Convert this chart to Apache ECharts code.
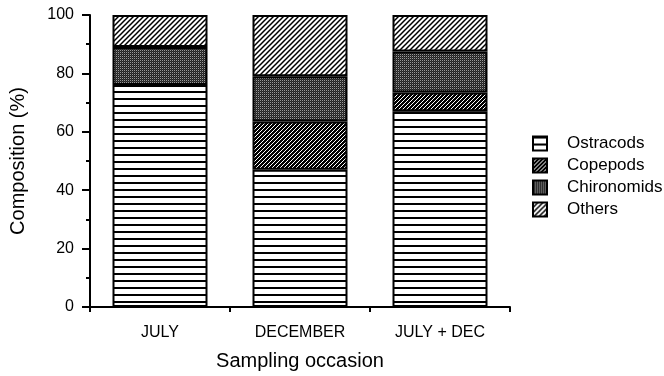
<!DOCTYPE html>
<html>
<head>
<meta charset="utf-8">
<script src="https://cdn.jsdelivr.net/npm/echarts@6/dist/echarts.min.js"></script>
<style>
html,body{margin:0;padding:0;background:#fff;}
#chart{width:664px;height:376px;}
</style>
</head>
<body>
<div id="chart"></div>
<script>
// ---- data ----
const categories = ['JULY', 'DECEMBER', 'JULY + DEC'];
const seriesNames = ['Ostracods', 'Copepods', 'Chironomids', 'Others'];
const ostracods = [76, 47, 67];
const copepods = [0, 16.5, 6.5];
const chironomids = [13, 15.5, 14];
const others = [11, 21, 12.5];
const yTicks = [0, 20, 40, 60, 80, 100];

// ---- patterns ----
function makePattern(w, h, draw) {
  const c = document.createElement('canvas');
  c.width = w; c.height = h;
  const ctx = c.getContext('2d');
  draw(ctx, w, h);
  return c;
}
function diag(ctx, s, color, lw) {
  ctx.strokeStyle = color; ctx.lineWidth = lw;
  ctx.beginPath();
  ctx.moveTo(-1, s + 1); ctx.lineTo(s + 1, -1);
  ctx.moveTo(-1, 1); ctx.lineTo(1, -1);
  ctx.moveTo(s - 1, s + 1); ctx.lineTo(s + 1, s - 1);
  ctx.stroke();
}
const patOstracods = makePattern(7, 7, (ctx, w, h) => {
  ctx.fillStyle = '#fff'; ctx.fillRect(0, 0, w, h);
  ctx.fillStyle = '#000'; ctx.fillRect(0, 0, w, 2);
});
const patCopepods = makePattern(4, 4, (ctx, w, h) => {
  ctx.fillStyle = '#000'; ctx.fillRect(0, 0, w, h);
  diag(ctx, 4, '#fff', 1);
});
const patChironomids = makePattern(2, 2, (ctx, w, h) => {
  ctx.fillStyle = '#222'; ctx.fillRect(0, 0, w, h);
  ctx.fillStyle = '#9a9a9a'; ctx.fillRect(0, 0, 1, 1);
  ctx.fillStyle = '#3a3a3a'; ctx.fillRect(1, 1, 1, 1);
});
const patOthers = makePattern(5, 5, (ctx, w, h) => {
  ctx.fillStyle = '#fff'; ctx.fillRect(0, 0, w, h);
  diag(ctx, 5, '#000', 1.5);
});
const patterns = [patOstracods, patCopepods, patChironomids, patOthers];
const values = [ostracods, copepods, chironomids, others];

const FONT = "'Liberation Sans', Arial, Helvetica, sans-serif";

const chart = echarts.init(document.getElementById('chart'), null, {renderer: 'canvas'});
chart.setOption({
  animation: false,
  backgroundColor: '#fff',
  textStyle: {fontFamily: FONT, color: '#000'},
  grid: {left: 90, right: 154, top: 15, bottom: 68, containLabel: false},
  legend: {
    orient: 'vertical',
    left: 532,
    top: 135,
    padding: 0,
    itemWidth: 14,
    itemHeight: 14,
    itemGap: 5,
    icon: 'rect',
    itemStyle: {borderColor: '#000', borderWidth: 2},
    textStyle: {fontFamily: FONT, fontSize: 17, color: '#000', padding: [0, 0, 0, 15]},
    data: seriesNames
  },
  xAxis: {
    type: 'category',
    data: categories,
    name: 'Sampling occasion',
    nameLocation: 'middle',
    nameGap: 44,
    nameTextStyle: {fontFamily: FONT, fontSize: 20, color: '#000'},
    axisLine: {show: true, lineStyle: {color: '#000', width: 2}},
    axisTick: {show: true, alignWithLabel: false, length: 5, lineStyle: {color: '#000', width: 2}},
    axisLabel: {fontFamily: FONT, fontSize: 16, color: '#000', margin: 18},
    splitLine: {show: false}
  },
  yAxis: {
    type: 'value',
    min: yTicks[0],
    max: yTicks[yTicks.length - 1],
    interval: yTicks[1] - yTicks[0],
    name: 'Composition (%)',
    nameLocation: 'middle',
    nameGap: 62,
    nameTextStyle: {fontFamily: FONT, fontSize: 20, color: '#000'},
    axisLine: {show: true, lineStyle: {color: '#000', width: 2}},
    axisTick: {show: true, length: 8, lineStyle: {color: '#000', width: 2}},
    minorTick: {show: true, splitNumber: 2, length: 4, lineStyle: {color: '#000', width: 2}},
    axisLabel: {fontFamily: FONT, fontSize: 16, color: '#000', margin: 16},
    splitLine: {show: false}
  },
  series: seriesNames.map((n, i) => ({
    name: n,
    type: 'bar',
    stack: 'total',
    barWidth: 95,
    data: values[i].map(v => v === 0 ? {value: v, itemStyle: {borderWidth: 0}} : v),
    itemStyle: {
      color: {image: patterns[i], repeat: 'repeat'},
      borderColor: '#000',
      borderWidth: 2
    },
    emphasis: {disabled: true}
  }))
});
</script>
</body>
</html>
